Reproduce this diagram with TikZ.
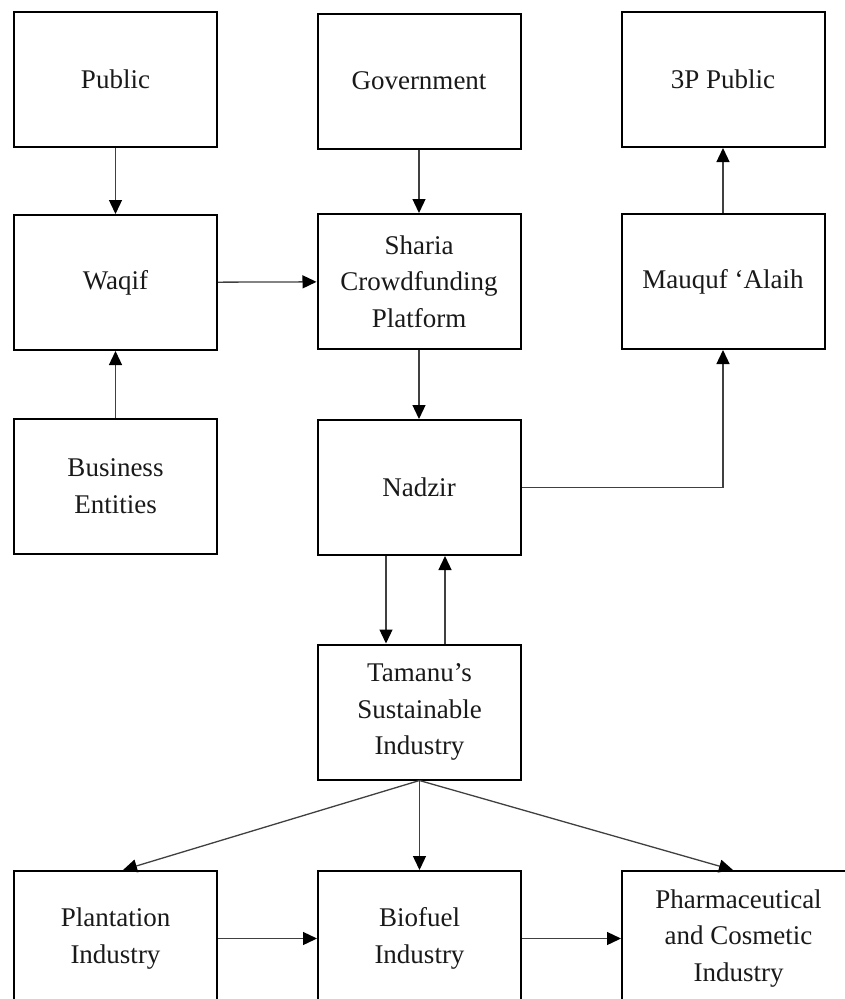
\documentclass[tikz,border=0pt]{standalone}
\usepackage{fontspec}
\setmainfont{Liberation Serif}
\usetikzlibrary{arrows.meta}
\tikzset{
  box/.style={draw=black, line width=2pt, minimum width=203pt, minimum height=135pt,
    align=center, inner sep=2pt, font=\fontsize{27}{36.7}\selectfont, text=black!90},
  arr/.style={draw=black!75, line width=1.3pt, -{Triangle[length=14pt,width=13pt,color=black]}},
}
\begin{document}
\begin{tikzpicture}[x=1pt,y=-1pt]
\useasboundingbox (0,0) rectangle (845,999);
\clip (0,0) rectangle (845,999);
% row 1
\node[box] (public) at (115.5,79.5) {Public};
\node[box] (gov) at (419,81) {Government};
\node[box] (p3) at (723,79.5) {3P Public};
% row 2
\node[box] (waqif) at (115.5,282.5) {Waqif};
\node[box] (sharia) at (419,281.5) {Sharia\\Crowdfunding\\Platform};
\node[box] (mauquf) at (723,281.5) {Mauquf `Alaih};
% row 3
\node[box] (business) at (115.5,486.5) {Business\\Entities};
\node[box] (nadzir) at (419,487.5) {Nadzir};
% row 4
\node[box] (tamanu) at (419.5,712) {Tamanu's\\Sustainable\\Industry};
% row 5
\node[box] (plant) at (115.5,938.5) {Plantation\\Industry};
\node[box] (bio) at (419.5,938.5) {Biofuel\\Industry};
\node[box, minimum width=233pt] (pharma) at (738.5,938.5) {Pharmaceutical\\and Cosmetic\\Industry};
% connectors
\draw[arr] (public) -- (waqif);
\draw[arr] (gov) -- (sharia);
\draw[arr] (mauquf) -- (p3);
\draw[arr] (waqif) -- (sharia);
\draw[arr] (business) -- (waqif);
\draw[arr] (sharia) -- (nadzir);
\draw[arr] (nadzir.east) -| (mauquf.south);
\draw[arr] ([xshift=-33pt]nadzir.south) -- ([xshift=-33.5pt]tamanu.north);
\draw[arr] ([xshift=25.5pt]tamanu.north) -- ([xshift=26pt]nadzir.south);
\draw[arr] (tamanu.south) -- ([xshift=7.5pt]plant.north);
\draw[arr] (tamanu.south) -- (bio.north);
\draw[arr] (tamanu.south) -- ([xshift=-5.5pt]pharma.north);
\draw[arr] (plant) -- (bio);
\draw[arr] (bio) -- (pharma);
\end{tikzpicture}
\end{document}
